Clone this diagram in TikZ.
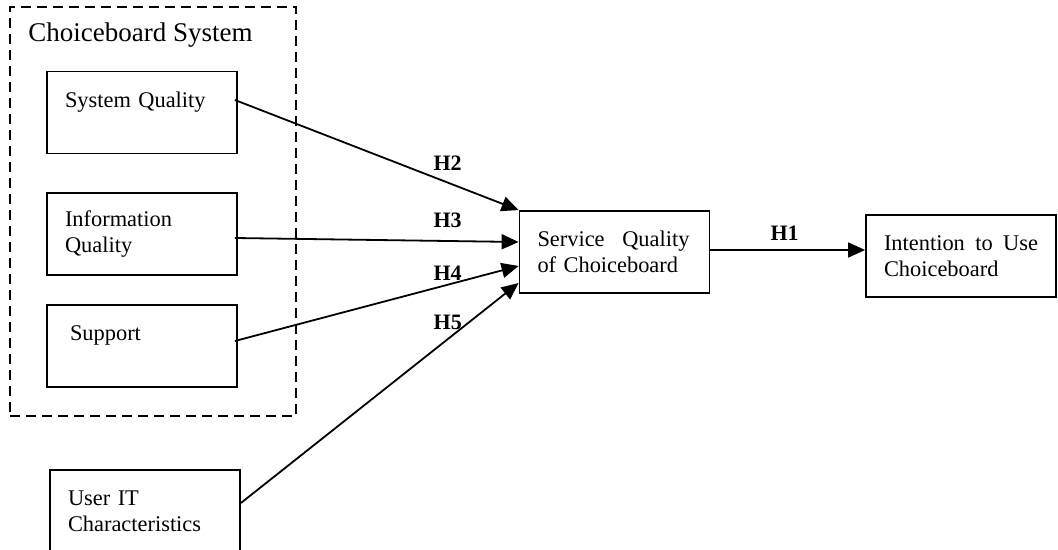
\documentclass[tikz,border=0pt]{standalone}
\usepackage{fontspec}
\setmainfont{Liberation Serif}
\usetikzlibrary{arrows.meta, positioning}

\begin{document}
\begin{tikzpicture}[
  x=0.5pt, y=-0.5pt,
  box/.style={draw, line width=0.9pt, minimum width=95pt, minimum height=41pt,
              inner xsep=9pt, text width=77pt, align=left,
              font=\fontsize{11.2}{13}\selectfont},
  group/.style={draw, dash pattern=on 5pt off 3pt, line width=0.9pt, inner sep=0pt},
  arr/.style={-{Triangle[length=8.5pt, width=7.5pt]}, line width=0.9pt},
  hyp/.style={font=\fontsize{11}{13}\selectfont\bfseries, inner sep=0pt},
]
  \clip (0,0) rectangle (1058,550);

  % choiceboard system group
  \node[group, minimum width=143pt, minimum height=204.5pt] (grp) at (153,211.5) {};
  \node[anchor=base west, inner sep=0pt, font=\fontsize{13.5}{16}\selectfont] (grptitle) at (28,42) {Choiceboard System};
  \node[box] (sysq)  at (142,112.5) {System Quality\\~};
  \node[box] (infoq) at (142,234)   {Information\\Quality};
  \node[box] (supp)  at (142,346)   {\hspace*{2.5pt}Support\\~};
  \node[box] (userit) at (145,511)  {User IT\\Characteristics};

  % outcomes
  \node[box] (svc)    at (614.5,252) {\makebox[76pt][l]{Service\hfill Quality}\\of Choiceboard};
  \node[box] (intent) at (961,256)   {\makebox[77pt][l]{Intention\hfill to\hfill Use}\\Choiceboard};

  \draw[arr] ([shift={(-3,-12.5)}]sysq.east) -- node[hyp, pos=0.75, yshift=9.5pt] {H2} (svc.north west);
  \draw[arr] ([shift={(-3,4)}]infoq.east) -- node[hyp, pos=0.75, yshift=10.5pt] {H3} ([shift={(0,-10)}]svc.west);
  \draw[arr] ([shift={(-3,-5)}]supp.east) -- node[hyp, pos=0.75, yshift=5.5pt] {H4} ([shift={(0,14)}]svc.west);
  \draw[arr] ([shift={(0,-8)}]userit.east) -- node[hyp, pos=0.745, yshift=8.5pt] {H5} ([shift={(0,31)}]svc.west);
  \draw[arr] ([yshift=1pt]svc.east) -- node[hyp, pos=0.48, yshift=8.5pt] {H1} ([yshift=3pt]intent.west);
\end{tikzpicture}
\end{document}
